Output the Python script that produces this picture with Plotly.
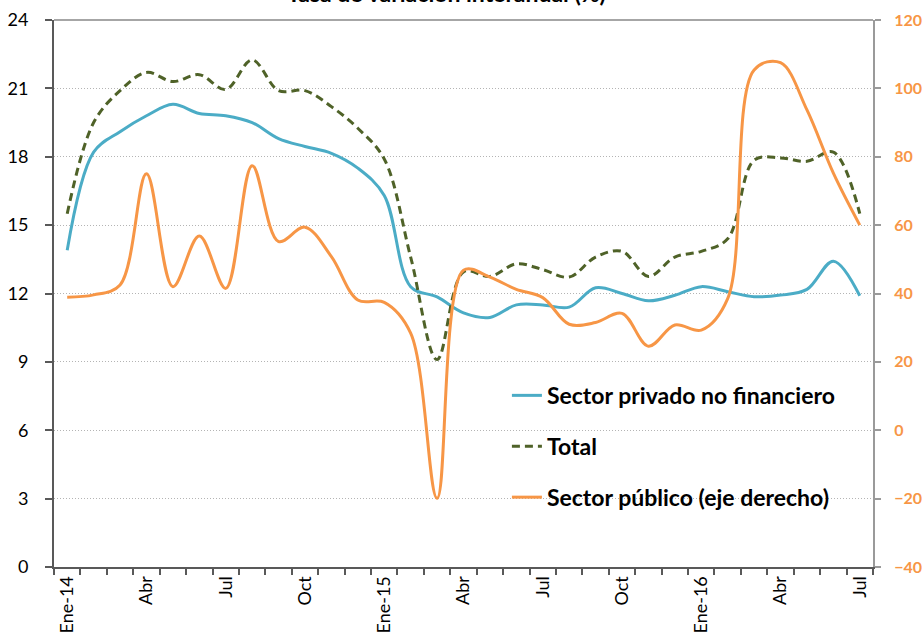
import plotly.graph_objects as go

months = ["Ene-14", "Feb-14", "Mar-14", "Abr-14", "May-14", "Jun-14", "Jul-14", "Ago-14",
          "Sep-14", "Oct-14", "Nov-14", "Dic-14", "Ene-15", "Feb-15", "Mar-15", "Abr-15",
          "May-15", "Jun-15", "Jul-15", "Ago-15", "Sep-15", "Oct-15", "Nov-15", "Dic-15",
          "Ene-16", "Feb-16", "Mar-16", "Abr-16", "May-16", "Jun-16", "Jul-16"]
tick_labels = ["Ene-14", "", "", "Abr", "", "", "Jul", "", "", "Oct", "", "",
               "Ene-15", "", "", "Abr", "", "", "Jul", "", "", "Oct", "", "",
               "Ene-16", "", "", "Abr", "", "", "Jul"]

privado = [13.9, 18.2, 19.1, 19.8, 20.3, 19.9, 19.8, 19.5, 18.8, 18.45, 18.15, 17.5, 16.3,
           12.3, 11.85, 11.15, 10.95, 11.5, 11.5, 11.4, 12.25, 12.0, 11.68, 11.92, 12.3,
           12.08, 11.86, 11.93, 12.18, 13.42, 11.9]
total = [15.5, 19.5, 20.9, 21.7, 21.3, 21.6, 20.95, 22.25, 20.9, 20.9, 20.2, 19.25, 17.9,
         13.6, 9.1, 12.95, 12.75, 13.3, 13.05, 12.72, 13.6, 13.85, 12.75, 13.6, 13.85,
         14.4, 17.85, 17.95, 17.8, 18.2, 15.5]
publico = [38.9, 39.6, 42.5, 75.0, 42.0, 56.8, 41.5, 77.4, 55.2, 59.4, 50.8, 38.1, 37.4,
           28.4, -19.9, 46.8, 44.8, 41.2, 38.8, 31.0, 31.5, 34.2, 24.6, 30.8, 29.3,
           38.5, 105.4, 107.5, 93.7, 75.2, 60.0]

left_ticks = [0, 3, 6, 9, 12, 15, 18, 21, 24]
right_ticks = [-40, -20, 0, 20, 40, 60, 80, 100, 120]

BLUE = "#4BACC6"
GREEN = "#4F6228"
ORANGE = "#F79646"
FONT = "Lato"

fig = go.Figure()
fig.add_trace(go.Scatter(x=months, y=privado, name="Sector privado no financiero",
                         mode="lines", line=dict(color=BLUE, width=3, shape="spline", smoothing=1),
                         legendgroup="a"))
fig.add_trace(go.Scatter(x=months, y=total, name="Total",
                         mode="lines", line=dict(color=GREEN, width=3, shape="spline", smoothing=1,
                                                 dash="8px,5px"),
                         legendgroup="b"))
fig.add_trace(go.Scatter(x=months, y=publico, name="Sector público (eje derecho)",
                         mode="lines", line=dict(color=ORANGE, width=3, shape="spline", smoothing=1),
                         yaxis="y2", legendgroup="c"))

fig.update_layout(
    width=924, height=639,
    margin=dict(l=54, r=51, t=20, b=72, autoexpand=False),
    paper_bgcolor="white", plot_bgcolor="white",
    font=dict(family=FONT, size=17, color="#000000"),
    showlegend=True,
    legend=dict(x=0.553, y=0.353, xanchor="left", yanchor="top",
                font=dict(family=FONT, size=23, color="#000000", weight="bold"),
                bgcolor="rgba(0,0,0,0)", tracegroupgap=18, traceorder="grouped",
                itemwidth=30),
    xaxis=dict(type="category", categoryorder="array", categoryarray=months,
               range=[-0.5, len(months) - 0.5], automargin=False,
               tickmode="array", tickvals=months, ticktext=tick_labels,
               tickson="boundaries", ticks="outside", ticklen=6, tickwidth=2, tickcolor="#595959",
               tickangle=-90, showgrid=False, showline=True, linecolor="#595959", linewidth=2,
               tickfont=dict(family=FONT, size=18, color="#000000"), zeroline=False),
    yaxis=dict(range=[0, 24], tickvals=left_ticks, ticks="outside", ticklen=7, tickwidth=2,
               tickcolor="#595959", showline=True, linecolor="#595959", linewidth=2,
               showgrid=True, gridcolor="#B4B4B4", griddash="1px,2px", gridwidth=1,
               zeroline=False, ticklabelstandoff=13, automargin=False,
               tickfont=dict(family=FONT, size=18, color="#000000")),
    yaxis2=dict(range=[-40, 120], tickvals=right_ticks, overlaying="y", side="right",
                ticks="outside", ticklen=6, tickwidth=2, tickcolor="#9A9A9A",
                showline=True, linecolor="#9A9A9A", linewidth=2, showgrid=False,
                zeroline=False, ticklabelstandoff=10, automargin=False,
                tickfont=dict(family=FONT, size=16, color=ORANGE, weight="bold")),
    annotations=[dict(text="<b>Tasa de variación interanual (%)</b>", xref="paper", yref="paper",
                      x=0.479, y=1.02, xanchor="center", yanchor="bottom", showarrow=False,
                      font=dict(family=FONT, size=23, color="#000000"))],
    shapes=[dict(type="line", xref="paper", yref="paper", x0=0, x1=1, y0=1, y1=1,
                 line=dict(color="#A6A6A6", width=2))],
)

fig.write_html("out.html", config={"displayModeBar": False},
               post_script="document.body.style.margin='0';document.body.style.overflow='hidden';")
